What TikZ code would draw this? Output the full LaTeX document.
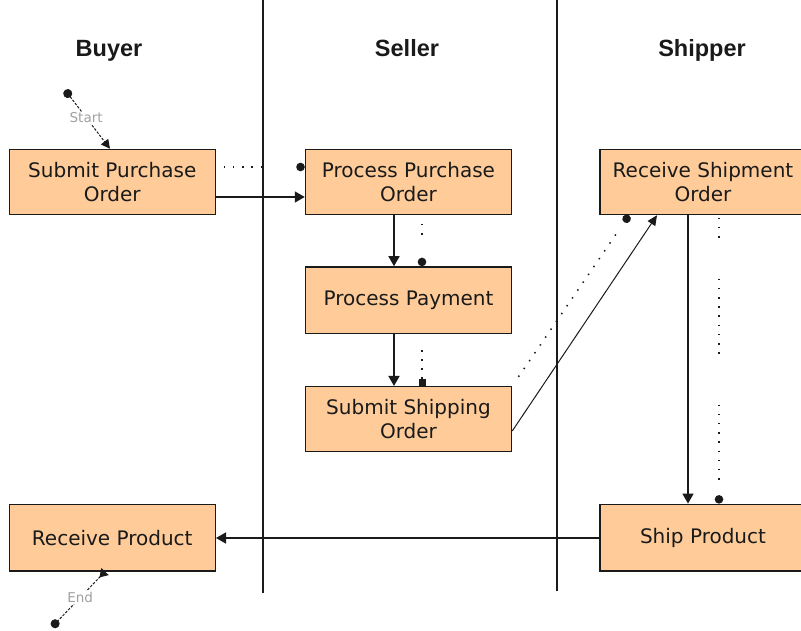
\documentclass[tikz,border=0pt]{standalone}
\usepackage{fontspec}
\setmainfont{DejaVu Sans}
\newfontfamily\headfont{Liberation Sans}
\usetikzlibrary{arrows.meta}
\definecolor{boxfill}{HTML}{FFCC99}
\definecolor{ink}{HTML}{1A1A1A}
\definecolor{termtext}{HTML}{A0A0A0}

\begin{document}
\begin{tikzpicture}[x=1pt,y=-1pt,
  task/.style={draw=ink, line width=1.5pt, fill=boxfill, text=ink,
    minimum width=206pt, minimum height=65pt, inner sep=0pt, align=center,
    font=\fontsize{20}{24}\selectfont},
  lane/.style={draw=ink, line width=1.8pt},
  head/.style={anchor=base, text=ink, font=\headfont\bfseries\fontsize{23.5}{27}\selectfont},
  flow/.style={draw=ink, line width=1.6pt, -{Triangle[length=10pt,width=11pt]}},
  thinflow/.style={draw=ink, line width=1pt, -{Triangle[length=10pt,width=9pt]}},
  msg/.style={draw=ink, line width=1.5pt, -{Circle[length=8.5pt]}},
  msgsq/.style={draw=ink, line width=1.5pt, -{Square[length=7pt]}},
  term/.style={draw=ink, line width=1pt, dash pattern=on 2.5pt off 1.5pt},
  termlabel/.style={fill=white, inner sep=1pt, text=termtext, font=\fontsize{13.5}{15}\selectfont},
]
\useasboundingbox (0,0) rectangle (801,631);
\clip (0,0) rectangle (801,631);

% swimlane separators
\draw[lane] (263,0) -- (263,593);
\draw[lane] (557,0) -- (557,591);

% lane headings
\node[head] (hbuyer) at (109,57) {Buyer};
\node[head] (hseller) at (407,57) {Seller};
\node[head] (hshipper) at (702,57) {Shipper};

% activities
\node[task] (spo) at (112.25,182) {Submit Purchase\\Order};
\node[task] (ppo) at (408.5,182) {Process Purchase\\Order};
\node[task, minimum height=66.5pt] (pp) at (408.5,300.2) {Process Payment};
\node[task] (sso) at (408.5,419.2) {Submit Shipping\\Order};
\node[task] (rso) at (703,182) {Receive Shipment\\Order};
\node[task, minimum height=66.5pt] (rp) at (112.25,537.6) {Receive Product};
\node[task, minimum height=66.5pt] (sp) at (703,537.6) {Ship Product};

% start / end terminators
\coordinate (start) at (65,90);
\coordinate (finish) at (52,627);
\draw[term, {Circle[length=9pt]}-{Triangle[length=9pt,width=9pt]}]
  (start) -- (spo.north -| 110,0) node[termlabel, pos=0.47] (lstart) {Start};
\draw[term, {Triangle[length=8pt,width=10pt,reversed]}-{Circle[length=9pt]}]
  (rp.south -| 105,0) -- (finish) node[termlabel, pos=0.47] (lend) {End};

% control flow
\draw[flow] (spo.east |- 0,197) -- (ppo.west |- 0,197);
\draw[flow] (ppo.south -| 394,0) -- (pp.north -| 394,0);
\draw[flow] (pp.south -| 394,0) -- (sso.north -| 394,0);
\draw[flow] (rso.south -| 688,0) -- (sp.north -| 688,0);
\draw[flow] (sp.west |- 0,538) -- (rp.east |- 0,538);
\draw[thinflow] (sso.east |- 0,431) -- (rso.south -| 657,0);

% object / message links
\draw[msg, dash pattern=on 0pt off 7.5pt on 1.5pt off 7.8pt on 1.5pt off 7.8pt on 1.5pt off 7.8pt on 1.5pt off 7.8pt on 1.5pt off 200pt]
  (spo.east |- 0,167) -- (ppo.west |- 0,167);
\draw[msg, dash pattern=on 0pt off 8.5pt on 1.5pt off 7.8pt on 1.5pt off 200pt]
  (ppo.south -| 422,0) -- (pp.north -| 422,0);
\draw[msgsq, dash pattern=on 0pt off 16pt on 1.5pt off 7.5pt on 1.5pt off 7.5pt on 1.5pt off 7.5pt on 1.5pt off 200pt]
  (pp.south -| 422,0) -- (sso.north -| 422,0);
\draw[msg, dash pattern=on 0pt off 11pt on 1.5pt off 8pt on 1.5pt off 8pt on 1.5pt off 8pt on 1.5pt off 8pt on 1.5pt off 8pt on 1.5pt off 8pt on 1.5pt off 8pt on 1.5pt off 8pt on 1.5pt off 8pt on 1.5pt off 8pt on 1.5pt off 8pt on 1.5pt off 8pt on 1.5pt off 8pt on 1.5pt off 8pt on 1.5pt off 8pt on 1.5pt off 8pt on 1.5pt off 8pt on 1.5pt off 8pt on 1.5pt off 300pt]
  (sso.north east) -- (rso.south -| 629,0);
\draw[msg, dash pattern=on 0pt off 2.5pt on 1.5pt off 7.7pt on 1.5pt off 7.7pt on 1.5pt off 41pt on 1.5pt off 7.7pt on 1.5pt off 7.7pt on 1.5pt off 7.7pt on 1.5pt off 7.7pt on 1.5pt off 7.7pt on 1.5pt off 7.7pt on 1.5pt off 7.7pt on 1.5pt off 7.7pt on 1.5pt off 50.8pt on 1.5pt off 7.7pt on 1.5pt off 7.7pt on 1.5pt off 7.7pt on 1.5pt off 7.7pt on 1.5pt off 7.7pt on 1.5pt off 7.7pt on 1.5pt off 7.7pt on 1.5pt off 7.7pt on 1.5pt off 300pt]
  (rso.south -| 719,0) -- (sp.north -| 719,0);
\end{tikzpicture}
\end{document}
